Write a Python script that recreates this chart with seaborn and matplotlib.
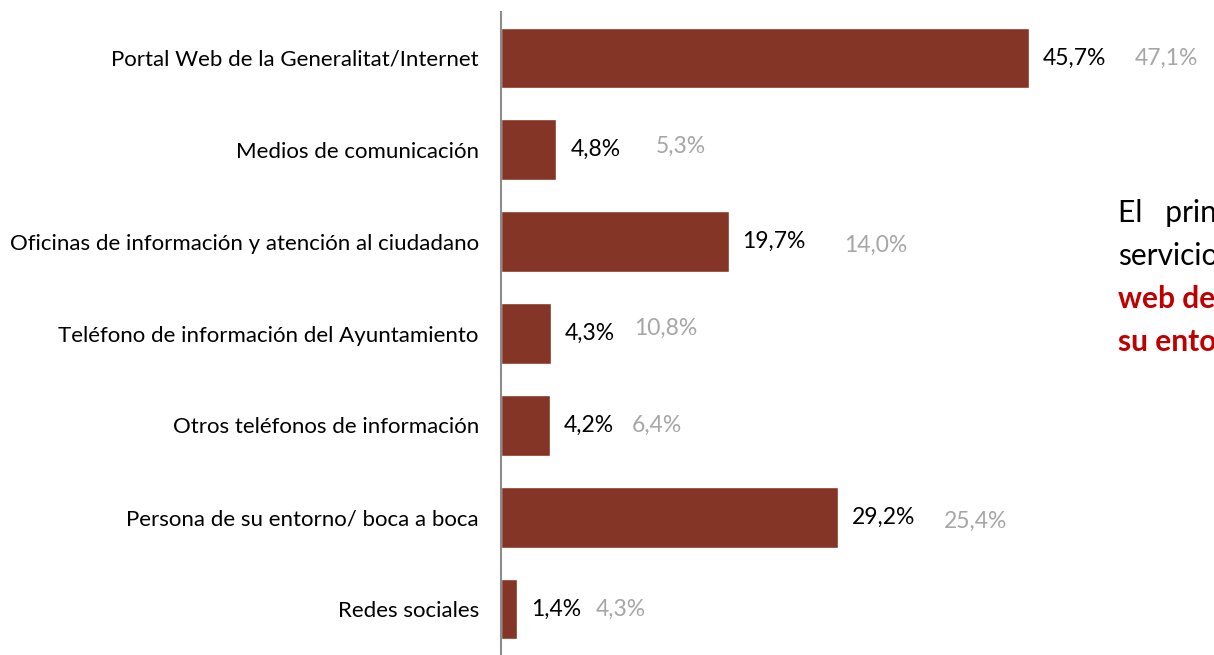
import matplotlib
matplotlib.use("Agg")
import matplotlib.pyplot as plt
import seaborn as sns
import pandas as pd

categories = [
    "Portal Web de la Generalitat/Internet",
    "Medios de comunicación",
    "Oficinas de información y atención al ciudadano",
    "Teléfono de información del Ayuntamiento",
    "Otros teléfonos de información",
    "Persona de su entorno/ boca a boca",
    "Redes sociales",
]
current = [45.7, 4.8, 19.7, 4.3, 4.2, 29.2, 1.4]
previous = [47.1, 5.3, 14.0, 10.8, 6.4, 25.4, 4.3]

# pixel offsets of the grey labels relative to the black ones (layout only)
grey_dx = [92, 85, 102, 70, 68, 92, 65]
grey_dy = [0, 3, -4, 5, 0, -4, 0]

df = pd.DataFrame({"cat": categories, "val": current})

sns.set_style("white")
plt.rcParams["font.family"] = ["Lato", "DejaVu Sans"]

fig = plt.figure(figsize=(12.14, 6.55), dpi=100)
ax = fig.add_axes([501 / 1214, 0, 713 / 1214, 643 / 655])

sns.barplot(data=df, x="val", y="cat", orient="h", color="#843526",
            width=0.66, saturation=1, ax=ax)
ax.set_xlim(0, 713 / 11.55)
ax.set_ylim(6.5, -0.5)
ax.set_xlabel("")
ax.set_ylabel("")
ax.set_xticks([])

for s in ["top", "right", "bottom"]:
    ax.spines[s].set_visible(False)
ax.spines["left"].set_color("#8c8c8c")
ax.spines["left"].set_linewidth(1.5)

ax.tick_params(axis="y", which="major", length=0, pad=16, labelsize=16,
               labelcolor="#000000")
ax.set_yticks([i - 0.5 for i in range(len(categories) + 1)], minor=True)
ax.tick_params(axis="y", which="minor", length=6, width=1.5, color="#8c8c8c",
               direction="out")

for i, (v, p) in enumerate(zip(current, previous)):
    lab = f"{v:.1f}%".replace(".", ",")
    ax.annotate(lab, xy=(v, i), xytext=(10, 0), textcoords="offset points",
                ha="left", va="center", fontsize=16.5, color="#000000")
    glab = f"{p:.1f}%".replace(".", ",")
    ax.annotate(glab, xy=(v, i), xytext=(10 + grey_dx[i] * 0.72, grey_dy[i] * 0.72),
                textcoords="offset points", ha="left", va="center",
                fontsize=16.5, color="#a6a6a6")

lines = [("El   principal", "#000000", "normal"),
         ("servicios", "#000000", "normal"),
         ("web de la", "#c00000", "bold"),
         ("su entorno", "#c00000", "bold")]
for k, (t, c, w) in enumerate(lines):
    fig.text(1118 / 1214, 1 - (213 + k * 43) / 655, t, color=c, fontweight=w,
             fontsize=21.5, ha="left", va="center")

fig.savefig("out.png", dpi=100)
